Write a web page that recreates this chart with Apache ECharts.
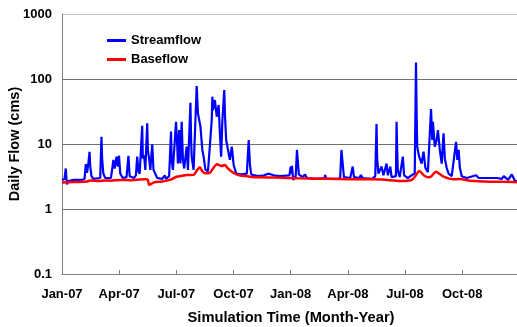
<!DOCTYPE html>
<html>
<head>
<meta charset="utf-8">
<script src="https://cdn.jsdelivr.net/npm/echarts@6/dist/echarts.min.js"></script>
<style>
html,body{margin:0;padding:0;background:#fff;}
#chart{width:517px;height:327px;}
</style>
</head>
<body>
<div id="chart"></div>
<script>
// ---- Data ----
var startDate = '2007-01-01';
var tickLabels = ['Jan-07','Apr-07','Jul-07','Oct-07','Jan-08','Apr-08','Jul-08','Oct-08',''];
var yTickLabels = ['0.1','1','10','100','1000'];

var streamDates = [
 '2007-01-01','2007-01-05','2007-01-07','2007-01-08','2007-01-09','2007-01-11','2007-01-20','2007-02-01','2007-02-06','2007-02-08',
 '2007-02-10','2007-02-12','2007-02-14','2007-02-15','2007-02-17','2007-02-20','2007-03-03','2007-03-05','2007-03-06','2007-03-08',
 '2007-03-11','2007-03-20','2007-03-22','2007-03-24','2007-03-26','2007-03-29','2007-03-31','2007-04-02','2007-04-04','2007-04-08',
 '2007-04-14','2007-04-17','2007-04-19','2007-04-26','2007-04-29','2007-05-01','2007-05-03','2007-05-05','2007-05-09','2007-05-10',
 '2007-05-12','2007-05-14','2007-05-17','2007-05-18','2007-05-20','2007-05-22','2007-05-25','2007-05-27','2007-06-02','2007-06-10',
 '2007-06-14','2007-06-16','2007-06-21','2007-06-24','2007-06-25','2007-06-27','2007-06-30','2007-07-02','2007-07-04','2007-07-05',
 '2007-07-07','2007-07-09','2007-07-11','2007-07-13','2007-07-15','2007-07-19','2007-07-21','2007-07-25','2007-07-26','2007-07-27',
 '2007-07-30','2007-08-04','2007-08-06','2007-08-09','2007-08-10','2007-08-13','2007-08-15','2007-08-18','2007-08-22','2007-08-28',
 '2007-08-29','2007-08-30','2007-09-02','2007-09-05','2007-09-08','2007-09-10','2007-09-12','2007-09-14','2007-09-17','2007-09-18',
 '2007-09-20','2007-09-23','2007-09-26','2007-09-29','2007-10-02','2007-10-06','2007-10-14','2007-10-23','2007-10-26','2007-10-28',
 '2007-10-30','2007-11-10','2007-11-20','2007-11-26','2007-12-01','2007-12-05','2007-12-15','2007-12-30','2008-01-01','2008-01-02',
 '2008-01-03','2008-01-05','2008-01-09','2008-01-11','2008-01-12','2008-01-14','2008-01-20','2008-01-24','2008-01-27','2008-02-10',
 '2008-02-24','2008-02-25','2008-02-27','2008-03-15','2008-03-20','2008-03-22','2008-03-24','2008-03-26','2008-04-05','2008-04-09',
 '2008-04-11','2008-04-20','2008-04-22','2008-04-25','2008-05-10','2008-05-15','2008-05-17','2008-05-18','2008-05-20','2008-05-22',
 '2008-05-25','2008-05-28','2008-06-02','2008-06-04','2008-06-08','2008-06-10','2008-06-17','2008-06-18','2008-06-19','2008-06-20',
 '2008-06-23','2008-06-28','2008-06-30','2008-07-06','2008-07-12','2008-07-17','2008-07-19','2008-07-20','2008-07-21','2008-07-24',
 '2008-07-28','2008-07-31','2008-08-03','2008-08-07','2008-08-10','2008-08-12','2008-08-14','2008-08-15','2008-08-18','2008-08-21',
 '2008-08-23','2008-08-26','2008-08-29','2008-09-01','2008-09-03','2008-09-06','2008-09-09','2008-09-14','2008-09-21','2008-09-23',
 '2008-09-25','2008-09-27','2008-09-30','2008-10-08','2008-10-23','2008-10-27','2008-11-25','2008-11-28','2008-12-03','2008-12-06',
 '2008-12-13','2008-12-19','2008-12-24','2008-12-31'
];
var streamValues = [
 2.8,2.9,4.2,3.0,2.4,2.7,2.8,2.8,2.9,4.9,
 3.6,5.0,7.6,4.6,3.2,2.9,3.0,12.9,6.0,3.5,
 3.0,3.0,4.0,5.7,4.2,6.4,4.5,6.6,3.5,3.0,
 3.1,6.6,3.2,3.0,3.3,6.4,3.8,3.5,19,6.0,
 6.7,4.0,20.8,8.0,6.0,4.0,9.9,4.0,3.0,2.9,
 3.3,2.9,3.2,15.5,5.7,4.0,4.0,22,9.1,5.0,
 16.4,5.0,22,5.7,4.2,9.1,4.0,43,12,6.4,
 4.0,78,29.6,31.3,18.4,8.1,6.4,4.0,3.8,23.4,
 53.5,33,47.5,26.3,39.8,14.6,6.4,23.4,67.6,29.6,
 11.5,8.1,5.7,9.1,4.75,3.5,3.4,3.5,11.5,4.75,
 3.4,3.2,3.3,3.5,3.4,3.3,3.2,3.3,4.5,3.5,
 4.6,2.8,3.2,8.1,6.0,3.4,3.1,3.4,3.0,2.9,
 3.0,3.33,2.9,2.9,3.0,8.1,5.0,3.1,3.0,4.5,
 3.1,3.0,3.33,3.0,2.9,3.2,20.3,6.0,3.5,3.5,
 4.5,3.3,5.0,3.3,4.5,3.1,3.2,22,8.0,3.9,
 3.1,6.4,3.3,3.0,3.3,3.5,180,28,9.1,6.4,
 5.0,7.6,4.3,3.7,3.5,34.6,11.5,22,9.1,11.5,
 16.4,8.1,5.0,14.6,6.0,4.3,3.5,3.2,10.8,5.7,
 8.1,4.3,3.2,3.0,3.3,3.0,3.0,3.2,2.9,3.2,
 2.8,3.4,2.7,2.65
];

var baseDates = [
 '2007-01-01','2007-01-20','2007-02-10','2007-02-15','2007-03-01','2007-03-10','2007-03-20','2007-04-05','2007-04-20','2007-05-05',
 '2007-05-15','2007-05-18','2007-05-20','2007-05-24','2007-05-28','2007-06-10','2007-06-22','2007-07-03','2007-07-12','2007-07-19',
 '2007-07-30','2007-08-05','2007-08-09','2007-08-13','2007-08-17','2007-08-25','2007-08-30','2007-09-05','2007-09-10','2007-09-13',
 '2007-09-18','2007-09-22','2007-09-29','2007-10-09','2007-10-28','2007-11-10','2007-12-07','2008-01-12','2008-02-15','2008-03-16',
 '2008-04-29','2008-05-25','2008-06-24','2008-07-12','2008-07-18','2008-07-24','2008-08-02','2008-08-10','2008-08-20','2008-09-01',
 '2008-09-17','2008-09-27','2008-10-13','2008-11-14','2008-12-21','2008-12-31'
];
var baseValues = [
 2.55,2.6,2.65,2.75,2.7,2.75,2.72,2.8,2.78,2.85,
 2.88,2.8,2.35,2.45,2.57,2.65,2.8,3.14,3.25,3.33,
 3.35,4.0,4.4,3.8,3.55,3.6,4.2,4.87,4.7,4.58,
 4.75,4.3,3.75,3.33,3.14,3.07,3.05,2.97,2.92,2.9,
 2.86,2.85,2.7,2.8,3.2,3.84,3.22,3.07,3.75,3.14,
 2.86,2.9,2.73,2.63,2.6,2.55
];

// ---- Build chart ----
var DAY = 86400000;
var t0 = Date.parse(startDate);
function toDay(d){ return (Date.parse(d) - t0) / DAY; }
function pairs(dates, vals){ return dates.map(function(d,i){ return [toDay(d), vals[i]]; }); }

var QUARTER = 91.25;
var font = '"Liberation Sans", Arial, sans-serif';

var chart = echarts.init(document.getElementById('chart'), null, {renderer:'canvas'});
chart.setOption({
  animation: false,
  backgroundColor: '#ffffff',
  textStyle: { fontFamily: font },
  grid: { left: 62, top: 14, width: 458, height: 260, containLabel: false, outerBoundsMode: 'none' },
  legend: {
    orient: 'vertical',
    left: 102, top: 29,
    itemWidth: 19, itemHeight: 3, itemGap: 6,
    icon: 'rect',
    textStyle: { fontFamily: font, fontSize: 13, fontWeight: 'bold', color: '#000' },
    data: ['Streamflow','Baseflow']
  },
  xAxis: {
    type: 'value',
    min: 0, max: 731, interval: QUARTER,
    name: 'Simulation Time (Month-Year)',
    nameLocation: 'middle', nameGap: 36, nameMoveOverlap: false,
    nameTextStyle: { fontFamily: font, fontSize: 14.7, fontWeight: 'bold', color: '#000' },
    axisLine: { show: true, lineStyle: { color: '#808080', width: 1 } },
    axisTick: { show: true, inside: true, length: 4, lineStyle: { color: '#808080' } },
    axisLabel: {
      margin: 14, fontFamily: font, fontSize: 13, fontWeight: 'bold', color: '#000',
      showMaxLabel: false,
      formatter: function(v){
        var k = Math.round(v / QUARTER);
        if (Math.abs(v - k * QUARTER) > 0.01) return '';
        return tickLabels[k] || '';
      }
    },
    splitLine: { show: false }
  },
  yAxis: {
    type: 'log', logBase: 10, min: 0.1, max: 1000,
    name: 'Daily Flow (cms)',
    nameLocation: 'middle', nameGap: 40, nameMoveOverlap: false,
    nameTextStyle: { fontFamily: font, fontSize: 14.5, fontWeight: 'bold', color: '#000' },
    axisLine: { show: true, lineStyle: { color: '#808080', width: 1 } },
    axisTick: { show: false },
    axisLabel: {
      margin: 10, fontFamily: font, fontSize: 13, fontWeight: 'bold', color: '#000',
      formatter: function(v){
        var k = Math.round(Math.log10(v)) + 1;
        return yTickLabels[k] !== undefined ? yTickLabels[k] : '';
      }
    },
    splitLine: { show: true, lineStyle: { color: ['#808080','#707070','#707070','#707070','#c4c4c4'], width: 1 } }
  },
  series: [
    {
      name: 'Streamflow', type: 'line', showSymbol: false, symbol: 'none',
      lineStyle: { color: '#0000ff', width: 2.2 }, itemStyle: { color: '#0000ff' },
      data: pairs(streamDates, streamValues), z: 2
    },
    {
      name: 'Baseflow', type: 'line', showSymbol: false, symbol: 'none', smooth: 0.2,
      lineStyle: { color: '#ff0000', width: 2.5 }, itemStyle: { color: '#ff0000' },
      data: pairs(baseDates, baseValues), z: 3
    }
  ]
});
</script>
</body>
</html>
